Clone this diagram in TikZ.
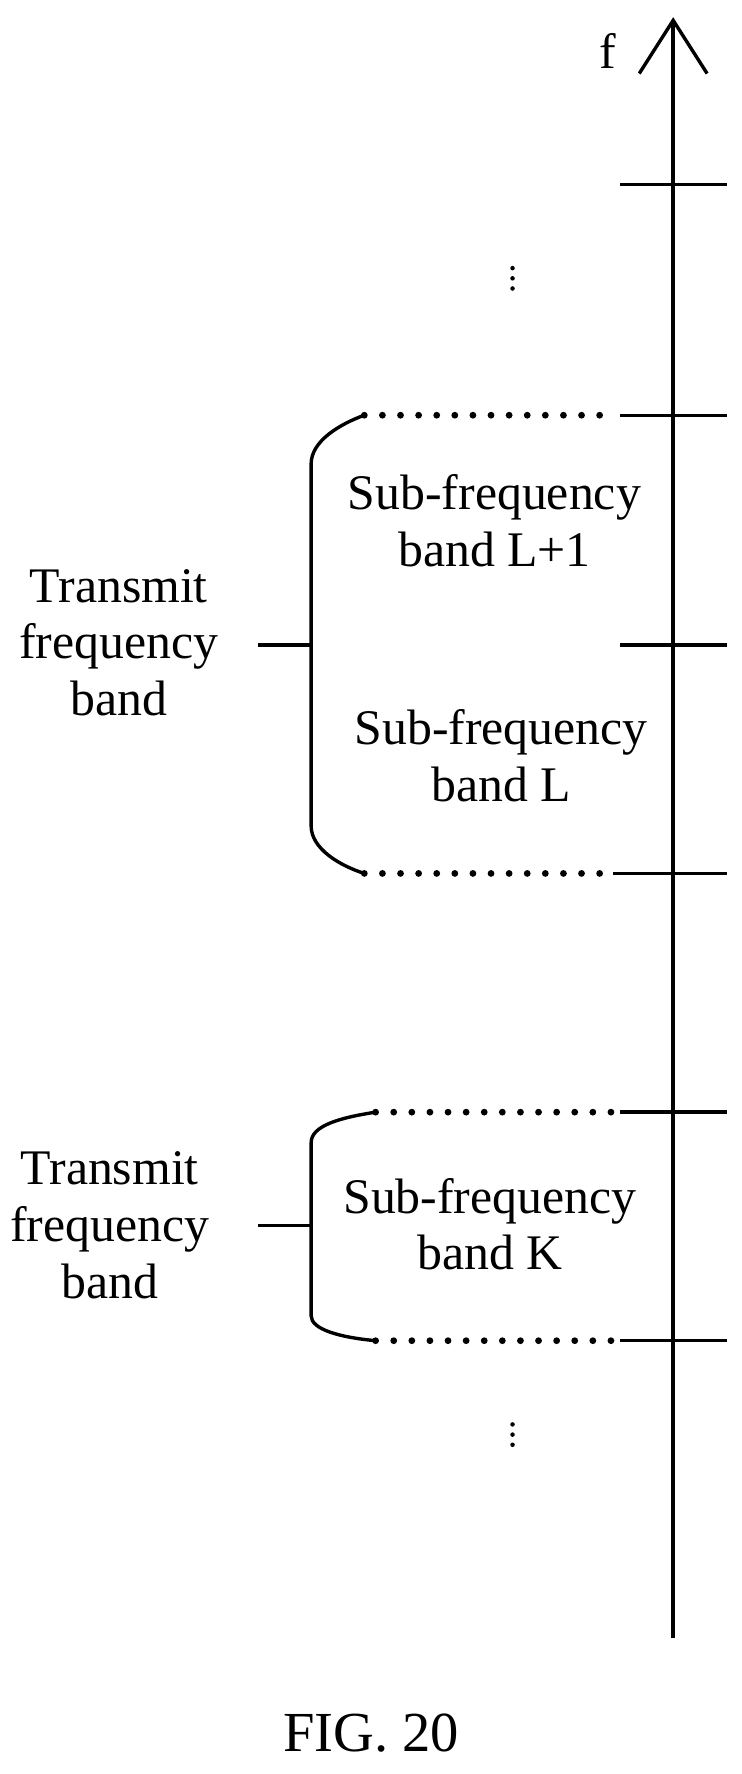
\documentclass[tikz,border=0pt]{standalone}
\usepackage{fontspec}
\setmainfont{Liberation Serif}
\begin{document}
\begin{tikzpicture}[x=1pt,y=-1pt,line width=3pt,
  lbl/.style={align=center,font=\fontsize{44}{50}\selectfont,inner sep=0pt},
  dots/.style={line width=6pt,line cap=round,dash pattern=on 0pt off 16pt},
  tick/.style={line width=3pt},
  vd/.style={fill,radius=2pt}]
\useasboundingbox (0,0) rectangle (655,1568);
\coordinate (ab) at (595,1448); \coordinate (at) at (595,18);
\draw (ab) -- (at);
\draw (565,65) -- (at) -- (625,65);
\node[lbl] (f) at (537,45) {f};
\foreach \y/\a in {163/548,367/548,570/548,772/542,983/548,1185/548}
  \draw[tick] (\a,\y) -- (643,\y);
\draw[dots] (322,367) -- (545,367);
\draw[dots] (322,772) -- (538,772);
\draw[dots] (332,983) -- (545,983);
\draw[dots] (332,1185) -- (545,1185);
\draw (322,367) .. controls (300,375) and (275,390) .. (275,410) -- (275,730) .. controls (275,750) and (300,765) .. (322,772);
\draw (228,570) -- (275,570);
\draw (332,983) .. controls (300,988) and (275,995) .. (275,1010) -- (275,1163) .. controls (275,1175) and (300,1182) .. (332,1185);
\draw (228,1083) -- (275,1083);
\node[lbl] (s1) at (437,460) {Sub-frequency\\band L+1};
\node[lbl] (s2) at (443,668) {Sub-frequency\\band L};
\node[lbl] (s3) at (433,1082) {Sub-frequency\\band K};
\node[lbl] (t1) at (105,568) {Transmit\\frequency\\band};
\node[lbl] (t2) at (97,1083) {Transmit\\frequency\\band};
\coordinate (v1) at (453,246);
\coordinate (v2) at (453,1268);
\foreach \c in {v1,v2}
  \foreach \d in {-9,0,9} \fill ([yshift=-\d pt]\c) circle (2pt);
\node[lbl,font=\fontsize{50}{56}\selectfont] (fig) at (328,1532) {FIG. 20};
\end{tikzpicture}
\end{document}
